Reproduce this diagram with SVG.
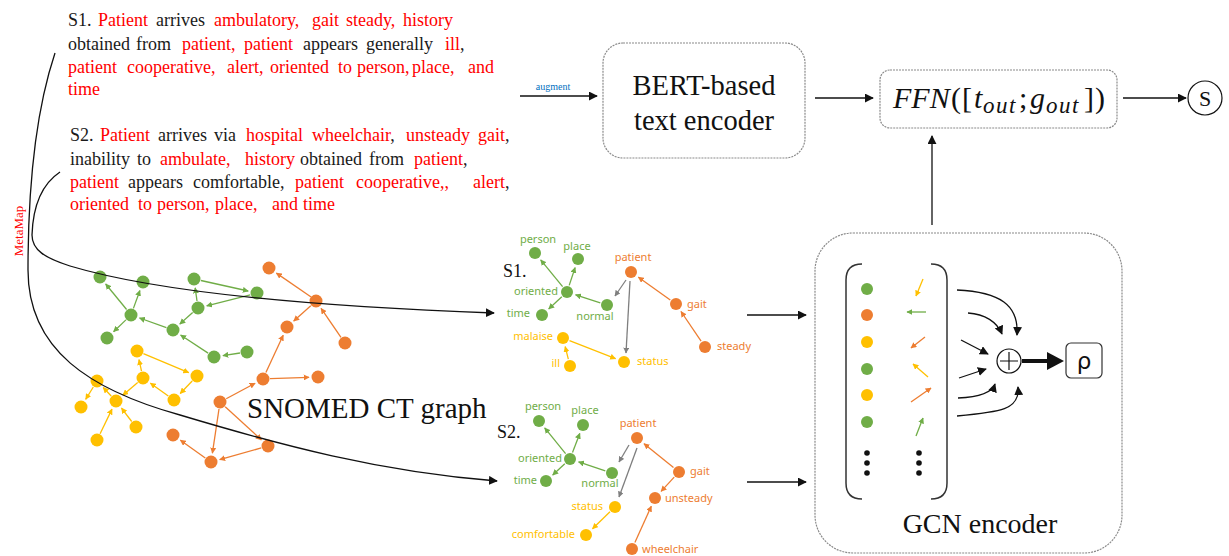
<svg xmlns="http://www.w3.org/2000/svg" width="1229" height="556" viewBox="0 0 1229 556">
<defs>
<style>
.serif{font-family:"Liberation Serif","Times New Roman",serif;}
.t{font-family:"Liberation Serif","Times New Roman",serif;font-size:18px;fill:#1a1a1a;}
.r{fill:#ff0000;}
.lbl{font-family:"Noto Sans","Open Sans",sans-serif;font-size:11px;}
.g{fill:#70ad47;} .o{fill:#ed7d31;} .y{fill:#ffc000;}
.eg{stroke:#70ad47;stroke-width:1.3;fill:none;marker-end:url(#ag);}
.eo{stroke:#ed7d31;stroke-width:1.3;fill:none;marker-end:url(#ao);}
.ey{stroke:#ffc000;stroke-width:1.3;fill:none;marker-end:url(#ay);}
.ex{stroke:#7f7f7f;stroke-width:1.3;fill:none;marker-end:url(#ax);}
.conn{stroke:#111;stroke-width:1.3;fill:none;marker-end:url(#ak);}
.box{fill:#fff;stroke:#8a8a8a;stroke-width:1.2;stroke-dasharray:2 1;}
.m{font-family:"Liberation Serif","Times New Roman",serif;font-size:30px;fill:#111;}
.it{font-style:italic;}
.sub{font-style:italic;font-size:23px;letter-spacing:1.5px;}
</style>
<marker id="ak" viewBox="0 0 10 10" refX="9" refY="5" markerWidth="9" markerHeight="9" markerUnits="userSpaceOnUse" orient="auto"><path d="M0,0 L10,5 L0,10 z" fill="#111"/></marker>
<marker id="ag" viewBox="0 0 10 10" refX="9" refY="5" markerWidth="6" markerHeight="6" markerUnits="userSpaceOnUse" orient="auto"><path d="M0,0 L10,5 L0,10 z" fill="#70ad47"/></marker>
<marker id="ao" viewBox="0 0 10 10" refX="9" refY="5" markerWidth="6" markerHeight="6" markerUnits="userSpaceOnUse" orient="auto"><path d="M0,0 L10,5 L0,10 z" fill="#ed7d31"/></marker>
<marker id="ay" viewBox="0 0 10 10" refX="9" refY="5" markerWidth="6" markerHeight="6" markerUnits="userSpaceOnUse" orient="auto"><path d="M0,0 L10,5 L0,10 z" fill="#ffc000"/></marker>
<marker id="ax" viewBox="0 0 10 10" refX="9" refY="5" markerWidth="6" markerHeight="6" markerUnits="userSpaceOnUse" orient="auto"><path d="M0,0 L10,5 L0,10 z" fill="#7f7f7f"/></marker>
</defs>
<rect width="1229" height="556" fill="#fff"/>

<g id="text-s1" class="t">
<text y="26"><tspan x="68">S1.</tspan><tspan x="98" class="r">Patient</tspan><tspan x="156">arrives</tspan><tspan x="214" class="r">ambulatory,</tspan><tspan x="312" class="r">gait</tspan><tspan x="346" class="r">steady,</tspan><tspan x="403" class="r">history</tspan></text>
<text y="50"><tspan x="68">obtained</tspan><tspan x="136">from</tspan><tspan x="182" class="r">patient,</tspan><tspan x="244" class="r">patient</tspan><tspan x="303">appears</tspan><tspan x="366">generally</tspan><tspan x="445" class="r">ill</tspan>,</text>
<text y="73" class="r"><tspan x="68" class="r">patient</tspan><tspan x="127" class="r">cooperative</tspan>,<tspan x="227" class="r">alert</tspan>,<tspan x="270" class="r">oriented</tspan><tspan x="338" class="r">to</tspan><tspan x="357" class="r">person,</tspan><tspan x="412" class="r">place,</tspan><tspan x="468" class="r">and</tspan></text>
<text y="95"><tspan x="68" class="r">time</tspan></text>
</g>

<g id="text-s2" class="t">
<text y="141"><tspan x="70">S2.</tspan><tspan x="100" class="r">Patient</tspan><tspan x="158">arrives</tspan><tspan x="214">via</tspan><tspan x="246" class="r">hospital</tspan><tspan x="312" class="r">wheelchair</tspan>,<tspan x="406" class="r">unsteady</tspan><tspan x="478" class="r">gait</tspan>,</text>
<text y="165"><tspan x="70">inability</tspan><tspan x="137">to</tspan><tspan x="160" class="r">ambulate,</tspan><tspan x="245" class="r">history</tspan><tspan x="300">obtained</tspan><tspan x="369">from</tspan><tspan x="414" class="r">patient</tspan>,</text>
<text y="188"><tspan x="70" class="r">patient</tspan><tspan x="128">appears</tspan><tspan x="193">comfortable,</tspan><tspan x="295" class="r">patient</tspan><tspan x="356" class="r">cooperative,,</tspan><tspan x="473" class="r">alert</tspan>,</text>
<text y="210" class="r"><tspan x="70" class="r">oriented</tspan><tspan x="138" class="r">to</tspan><tspan x="157" class="r">person,</tspan><tspan x="215" class="r">place,</tspan><tspan x="272" class="r">and</tspan><tspan x="303" class="r">time</tspan></text>
</g>

<g id="metamap">
<text transform="translate(23,231) rotate(-90)" text-anchor="middle" class="serif" font-size="13" fill="#ff0000">MetaMap</text>
</g>

<g id="augment-label">
<text x="553" y="90" text-anchor="middle" font-family="Liberation Serif, serif" font-size="10" fill="#0070c0">augment</text>
</g>

<g id="bert">
<rect class="box" x="603" y="43" width="202" height="115" rx="20"/>
<text x="704" y="95" text-anchor="middle" class="serif" font-size="28.5" fill="#111">BERT-based</text>
<text x="704" y="130" text-anchor="middle" class="serif" font-size="28.5" fill="#111">text encoder</text>
</g>

<g id="ffn">
<rect class="box" x="880" y="70" width="237" height="58" rx="10"/>
<text class="m" y="108"><tspan x="893" class="it">FFN</tspan><tspan x="951">(</tspan><tspan x="962">[</tspan><tspan x="974" class="it">t</tspan><tspan x="983" dy="5" class="sub">out</tspan><tspan x="1019" dy="-5">;</tspan><tspan x="1030" class="it">g</tspan><tspan x="1046" dy="5" class="sub">out</tspan><tspan x="1084" dy="-5">]</tspan><tspan x="1095">)</tspan></text>
</g>

<g id="s-output">
<circle cx="1205" cy="98" r="17" fill="#fff" stroke="#111" stroke-width="1.2"/>
<text x="1205" y="106" text-anchor="middle" class="serif" font-size="22" fill="#111">S</text>
</g>

<g id="snomed-graph">
<g id="snomed-edges">
<line class="eg" x1="126.6" y1="309.5" x2="105.7" y2="284"/>
<line class="eg" x1="133.4" y1="308.4" x2="139.9" y2="290.5"/>
<line class="eg" x1="125.9" y1="319.9" x2="113.6" y2="331.7"/>
<line class="eg" x1="166.4" y1="327.6" x2="139.5" y2="318"/>
<line class="eg" x1="192.7" y1="312.6" x2="179.8" y2="324"/>
<line class="eg" x1="250.2" y1="294.8" x2="206.7" y2="305.8"/>
<line class="eg" x1="200.9" y1="280.5" x2="248.2" y2="291"/>
<line class="eg" x1="197" y1="301" x2="195.2" y2="287.9"/>
<line class="eg" x1="208.1" y1="353.1" x2="180.6" y2="335"/>
<line class="eg" x1="240" y1="353" x2="222.9" y2="355.6"/>
<line class="ey" x1="143.4" y1="353.7" x2="188.7" y2="372.6"/>
<line class="ey" x1="192.2" y1="381" x2="180.2" y2="393.5"/>
<line class="ey" x1="168.3" y1="396" x2="150.4" y2="383.2"/>
<line class="ey" x1="141.5" y1="371.2" x2="139" y2="359.7"/>
<line class="ey" x1="137.7" y1="382.5" x2="122.8" y2="395.2"/>
<line class="ey" x1="111.2" y1="396" x2="103.2" y2="387.5"/>
<line class="ey" x1="93.3" y1="387" x2="85.7" y2="399.3"/>
<line class="ey" x1="100.1" y1="433.7" x2="112" y2="409.1"/>
<line class="ey" x1="131.7" y1="421.5" x2="121.5" y2="408.1"/>
<line class="eo" x1="311.1" y1="297" x2="276.4" y2="273.1"/>
<line class="eo" x1="310.8" y1="305.7" x2="293.7" y2="321"/>
<line class="eo" x1="341" y1="337.3" x2="321.1" y2="308.4"/>
<line class="eo" x1="265.9" y1="372.6" x2="283.2" y2="335.2"/>
<line class="eo" x1="270" y1="378.7" x2="309" y2="377.3"/>
<line class="eo" x1="226.2" y1="398.7" x2="255.1" y2="383.2"/>
<line class="eo" x1="219" y1="409" x2="212.4" y2="453.1"/>
<line class="eo" x1="225.2" y1="406.8" x2="261.4" y2="439.9"/>
<line class="eo" x1="261.3" y1="447.9" x2="219.7" y2="459.6"/>
<line class="eo" x1="205.3" y1="458" x2="180.4" y2="440.2"/>
</g>
<g id="snomed-nodes">
<circle class="g" cx="100" cy="277" r="6.5"/><circle class="g" cx="143" cy="282" r="6.5"/><circle class="g" cx="194" cy="279" r="6.5"/><circle class="g" cx="257" cy="293" r="6.5"/><circle class="g" cx="198" cy="308" r="6.5"/><circle class="g" cx="131" cy="315" r="6.5"/><circle class="g" cx="173" cy="330" r="6.5"/><circle class="g" cx="107" cy="338" r="6.5"/><circle class="g" cx="214" cy="357" r="6.5"/><circle class="g" cx="247" cy="352" r="6.5"/>
<circle class="y" cx="137" cy="351" r="6.5"/><circle class="y" cx="197" cy="376" r="6.5"/><circle class="y" cx="143" cy="378" r="6.5"/><circle class="y" cx="174" cy="400" r="6.5"/><circle class="y" cx="97" cy="381" r="6.5"/><circle class="y" cx="116" cy="401" r="6.5"/><circle class="y" cx="81" cy="407" r="6.5"/><circle class="y" cx="136" cy="427" r="6.5"/><circle class="y" cx="97" cy="440" r="6.5"/>
<circle class="o" cx="269" cy="268" r="6.5"/><circle class="o" cx="316" cy="301" r="6.5"/><circle class="o" cx="287" cy="327" r="6.5"/><circle class="o" cx="345" cy="343" r="6.5"/><circle class="o" cx="263" cy="379" r="6.5"/><circle class="o" cx="318" cy="377" r="6.5"/><circle class="o" cx="220" cy="402" r="6.5"/><circle class="o" cx="173" cy="435" r="6.5"/><circle class="o" cx="268" cy="446" r="6.5"/><circle class="o" cx="211" cy="462" r="6.5"/>
</g>
<text x="247" y="418" class="serif" font-size="29" fill="#111">SNOMED CT graph</text>
</g>

<g id="s1-graph">
<text x="503" y="277" class="serif" font-size="18" fill="#111">S1.</text>
<line class="eg" x1="562.6" y1="286.6" x2="540.7" y2="259.9"/>
<line class="eg" x1="569.2" y1="285.4" x2="575.1" y2="267.6"/>
<line class="eg" x1="561.8" y1="296.8" x2="548.7" y2="308.9"/>
<line class="eg" x1="600.3" y1="302.8" x2="575.6" y2="294.8"/>
<line class="eo" x1="670.3" y1="300" x2="638.4" y2="277.2"/>
<line class="eo" x1="701.1" y1="341.2" x2="681" y2="311.5"/>
<line class="ex" x1="626" y1="280" x2="615" y2="296"/>
<line class="ex" x1="630" y1="281" x2="626" y2="353"/>
<line class="ey" x1="568.3" y1="359.2" x2="565.2" y2="346.7"/>
<line class="ey" x1="569.5" y1="340.6" x2="615.6" y2="358.7"/>
<circle class="g" cx="535" cy="253" r="6"/><circle class="g" cx="578" cy="259" r="6"/><circle class="g" cx="567" cy="292" r="6"/><circle class="g" cx="542" cy="315" r="6"/><circle class="g" cx="607" cy="305" r="6"/>
<circle class="o" cx="631" cy="272" r="6"/><circle class="o" cx="676" cy="304" r="6"/><circle class="o" cx="705" cy="347" r="6"/>
<circle class="y" cx="563" cy="338" r="6"/><circle class="y" cx="570" cy="366" r="6"/><circle class="y" cx="624" cy="362" r="6"/>
<text class="lbl g" x="538" y="243" text-anchor="middle">person</text>
<text class="lbl g" x="577" y="250" text-anchor="middle">place</text>
<text class="lbl g" x="558" y="295" text-anchor="end">oriented</text>
<text class="lbl g" x="530" y="317" text-anchor="end">time</text>
<text class="lbl g" x="595" y="320" text-anchor="middle">normal</text>
<text class="lbl o" x="633" y="261" text-anchor="middle">patient</text>
<text class="lbl o" x="687" y="308">gait</text>
<text class="lbl o" x="717" y="350">steady</text>
<text class="lbl y" x="553" y="340" text-anchor="end">malaise</text>
<text class="lbl y" x="560" y="367" text-anchor="end">ill</text>
<text class="lbl y" x="637" y="365">status</text>
</g>

<g id="s2-graph">
<text x="497" y="438" class="serif" font-size="18" fill="#111">S2.</text>
<line class="eg" x1="565.6" y1="453.6" x2="544.7" y2="427.9"/>
<line class="eg" x1="572.5" y1="452.5" x2="579.8" y2="433.4"/>
<line class="eg" x1="564.8" y1="463.7" x2="552.7" y2="475"/>
<line class="eg" x1="605.3" y1="470.8" x2="578.6" y2="461.9"/>
<line class="eo" x1="673.5" y1="467.6" x2="644" y2="443.7"/>
<line class="eo" x1="674.2" y1="477.1" x2="661.1" y2="491.4"/>
<line class="eo" x1="634.9" y1="542.6" x2="651.3" y2="506.2"/>
<line class="ey" x1="610" y1="511.8" x2="592.5" y2="528.8"/>
<line class="ex" x1="629" y1="445" x2="619" y2="462"/>
<line class="ex" x1="637" y1="448" x2="619" y2="497"/>
<circle class="g" cx="539" cy="421" r="6"/><circle class="g" cx="583" cy="425" r="6"/><circle class="g" cx="570" cy="459" r="6"/><circle class="g" cx="546" cy="481" r="6"/><circle class="g" cx="612" cy="473" r="6"/>
<circle class="o" cx="637" cy="438" r="6"/><circle class="o" cx="679" cy="472" r="6"/><circle class="o" cx="655" cy="498" r="6"/><circle class="o" cx="632" cy="549" r="6"/>
<circle class="y" cx="615" cy="507" r="6"/><circle class="y" cx="586" cy="535" r="6"/>
<text class="lbl g" x="543" y="410" text-anchor="middle">person</text>
<text class="lbl g" x="585" y="414" text-anchor="middle">place</text>
<text class="lbl g" x="562" y="462" text-anchor="end">oriented</text>
<text class="lbl g" x="537" y="484" text-anchor="end">time</text>
<text class="lbl g" x="600" y="487" text-anchor="middle">normal</text>
<text class="lbl o" x="638" y="427" text-anchor="middle">patient</text>
<text class="lbl o" x="690" y="475">gait</text>
<text class="lbl o" x="665" y="502">unsteady</text>
<text class="lbl o" x="642" y="553">wheelchair</text>
<text class="lbl y" x="603" y="510" text-anchor="end">status</text>
<text class="lbl y" x="575" y="538" text-anchor="end">comfortable</text>
</g>

<g id="gcn">
<rect class="box" x="815" y="233" width="307" height="320" rx="38"/>
<path d="M862,264 Q846,264 846,280 L846,483 Q846,499 862,499" fill="none" stroke="#333" stroke-width="1.5"/>
<path d="M931,264 Q947,264 947,280 L947,483 Q947,499 931,499" fill="none" stroke="#333" stroke-width="1.5"/>
<circle class="g" cx="867" cy="289" r="6"/><circle class="o" cx="867" cy="315" r="6"/><circle class="y" cx="867" cy="342" r="6"/><circle class="g" cx="867" cy="369" r="6"/><circle class="y" cx="867" cy="395" r="6"/><circle class="g" cx="867" cy="422" r="6"/>
<circle cx="867" cy="453" r="2.8" fill="#111"/><circle cx="867" cy="463" r="2.8" fill="#111"/><circle cx="867" cy="473" r="2.8" fill="#111"/>
<line class="ey" x1="923" y1="279" x2="916" y2="296"/>
<line class="eg" x1="926" y1="312" x2="907" y2="312"/>
<line class="eo" x1="925" y1="337" x2="911" y2="348"/>
<line class="ey" x1="928" y1="377" x2="913" y2="364"/>
<line class="eo" x1="911" y1="402" x2="931" y2="388"/>
<line class="eg" x1="916" y1="436" x2="923" y2="418"/>
<circle cx="919" cy="453" r="2.8" fill="#111"/><circle cx="919" cy="463" r="2.8" fill="#111"/><circle cx="919" cy="473" r="2.8" fill="#111"/>
<circle cx="1009" cy="361" r="12" fill="#fff" stroke="#111" stroke-width="1.2"/>
<path d="M1009,352 V370 M1000,361 H1018" stroke="#111" stroke-width="1.2"/>
<line x1="1022" y1="361" x2="1050" y2="361" stroke="#111" stroke-width="4"/>
<polygon points="1047,352 1064,361 1047,370" fill="#111"/>
<rect x="1066" y="343" width="36" height="35" rx="5" fill="#fff" stroke="#333" stroke-width="1.2"/>
<text x="1084" y="369" text-anchor="middle" font-family="DejaVu Sans, sans-serif" font-size="23" fill="#111">ρ</text>
<text x="980" y="533" text-anchor="middle" class="serif" font-size="28" fill="#111">GCN encoder</text>
</g>

<g id="connectors">
<path class="conn" d="M957,290 C1000,292 1019,305 1017,335"/>
<path class="conn" d="M968,313 C985,314 997,322 1002,334"/>
<line class="conn" x1="961" y1="340" x2="988" y2="354"/>
<line class="conn" x1="959" y1="378" x2="986" y2="369"/>
<path class="conn" d="M958,398 C980,397 992,393 995,384"/>
<path class="conn" d="M957,416 C1000,412 1020,410 1018,387"/>
<line class="conn" x1="520" y1="96" x2="597" y2="96"/>
<line class="conn" x1="815" y1="98" x2="873" y2="98"/>
<line class="conn" x1="1123" y1="98" x2="1186" y2="98"/>
<line class="conn" x1="932" y1="225" x2="932" y2="136"/>
<line class="conn" x1="747" y1="315" x2="806" y2="315"/>
<line class="conn" x1="747" y1="482" x2="806" y2="482"/>
<path class="conn" d="M60,172 C42,184 33,205 32,235 C32,250 45,258 70,266 C150,290 300,306 494,313"/>
<path class="conn" d="M55,53 C36,110 28,180 28,270 C28,350 90,390 180,415 C280,445 380,472 497,481"/>
</g>
</svg>
